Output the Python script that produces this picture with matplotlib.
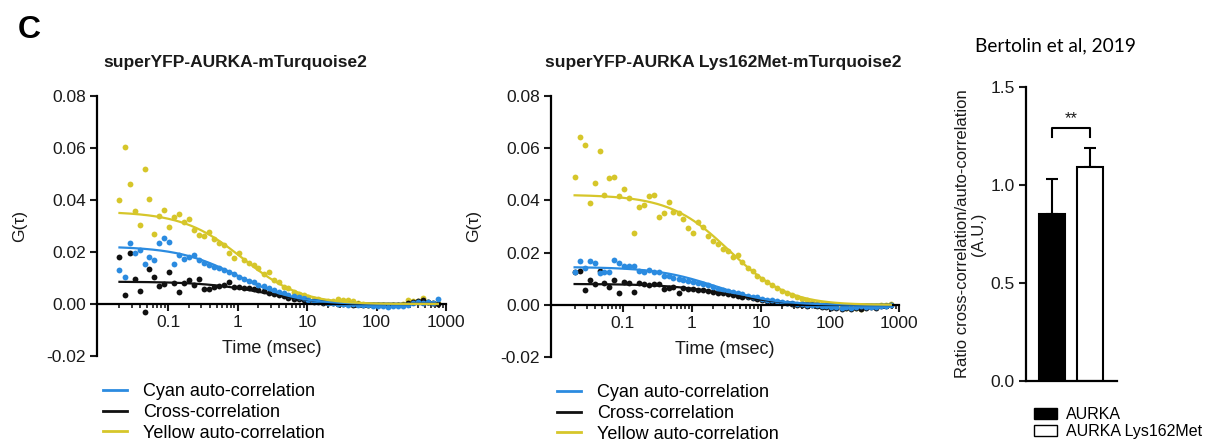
import numpy as np
import matplotlib
matplotlib.use("Agg")
import matplotlib.pyplot as plt
from matplotlib.lines import Line2D
from matplotlib.patches import Patch
from matplotlib.ticker import LogLocator, NullFormatter, FormatStrFormatter

plt.rcParams['font.family'] = ['Liberation Sans', 'DejaVu Sans']

# ---------------------------------------------------------------- data
# lag times of the correlation curves (ms)
lag_ms = [0.020, 0.024, 0.028, 0.033, 0.039, 0.046, 0.054, 0.063, 0.075, 0.088,
          0.104, 0.123, 0.145, 0.171, 0.20, 0.24, 0.28, 0.33, 0.39, 0.46,
          0.54, 0.64, 0.75, 0.89, 1.05, 1.23, 1.45, 1.71, 2.0, 2.4,
          2.8, 3.3, 3.9, 4.6, 5.4, 6.4, 7.6, 8.9, 10.5, 12.4,
          14.6, 17.2, 20.3, 24, 28, 33, 39, 46, 55, 64,
          76, 89, 105, 124, 147, 173, 204, 240, 283, 334,
          394, 465, 548, 646, 762]

# superYFP-AURKA-mTurquoise2
wt_cyan = [0.0131, 0.0105, 0.0236, 0.0198, 0.0208, 0.0154, 0.0182, 0.0169, 0.0234, 0.0253,
           0.0238, 0.0154, 0.0189, 0.0175, 0.0180, 0.0189, 0.0170, 0.0158, 0.0150, 0.0143,
           0.0137, 0.0130, 0.0124, 0.0115, 0.0105, 0.0098, 0.0090, 0.0085, 0.0075, 0.0069,
           0.0062, 0.0053, 0.0048, 0.0042, 0.0035, 0.0030, 0.0026, 0.0022, 0.0016, 0.0012,
           0.0010, 0.0007, 0.0004, 0.0002, 0.0001, 0.0000, -0.0002, -0.0001, -0.0003, -0.0002,
           -0.0004, -0.0006, -0.0009, -0.0007, -0.0010, -0.0008, -0.0006, -0.0009, -0.0004, 0.0002,
           0.0006, 0.0003, 0.0008, 0.0004, 0.0018]
wt_cross = [0.0182, 0.0035, 0.0198, 0.0095, 0.0051, -0.0030, 0.0134, 0.0105, 0.0069, 0.0077,
            0.0124, 0.0082, 0.0045, 0.0082, 0.0092, 0.0073, 0.0095, 0.0057, 0.0057, 0.0066,
            0.0069, 0.0074, 0.0086, 0.0067, 0.0064, 0.0062, 0.0061, 0.0058, 0.0055, 0.0050,
            0.0042, 0.0037, 0.0033, 0.0029, 0.0025, 0.0021, 0.0018, 0.0014, 0.0011, 0.0008,
            0.0006, 0.0005, 0.0004, 0.0002, 0.0001, 0.0000, -0.0001, -0.0002, -0.0001, -0.0003,
            -0.0002, -0.0004, -0.0005, -0.0003, -0.0006, -0.0004, -0.0003, -0.0005, 0.0004, 0.0009,
            0.0012, 0.0014, 0.0006, 0.0002, 0.0000]
wt_yellow = [0.0400, 0.0603, 0.0462, 0.0359, 0.0304, 0.0520, 0.0403, 0.0268, 0.0339, 0.0362,
             0.0295, 0.0334, 0.0345, 0.0317, 0.0326, 0.0285, 0.0266, 0.0262, 0.0278, 0.0250,
             0.0236, 0.0228, 0.0195, 0.0176, 0.0196, 0.0169, 0.0158, 0.0150, 0.0139, 0.0116,
             0.0124, 0.0092, 0.0085, 0.0066, 0.0062, 0.0045, 0.0040, 0.0033, 0.0028, 0.0021,
             0.0019, 0.0013, 0.0012, 0.0010, 0.0018, 0.0017, 0.0015, 0.0013, 0.0003, 0.0001,
             -0.0002, -0.0003, -0.0004, -0.0005, -0.0004, -0.0003, -0.0002, 0.0000, 0.0015, 0.0010,
             0.0012, 0.0024, 0.0008, 0.0005, 0.0002]

# superYFP-AURKA Lys162Met-mTurquoise2
mut_cyan = [0.0124, 0.0166, 0.0141, 0.0166, 0.0160, 0.0122, 0.0124, 0.0124, 0.0172, 0.0160,
            0.0147, 0.0147, 0.0150, 0.0131, 0.0127, 0.0133, 0.0127, 0.0124, 0.0112, 0.0110,
            0.0104, 0.0100, 0.0096, 0.0092, 0.0089, 0.0084, 0.0079, 0.0074, 0.0068, 0.0062,
            0.0058, 0.0053, 0.0049, 0.0044, 0.0040, 0.0035, 0.0031, 0.0028, 0.0024, 0.0020,
            0.0017, 0.0014, 0.0011, 0.0008, 0.0006, 0.0004, 0.0002, 0.0000, -0.0002, -0.0001,
            -0.0004, -0.0006, -0.0010, -0.0008, -0.0011, -0.0007, -0.0012, -0.0009, -0.0006, -0.0010,
            -0.0007, -0.0009, -0.0005, -0.0004, -0.0002]
mut_cross = [0.0124, 0.0130, 0.0057, 0.0096, 0.0080, 0.0128, 0.0084, 0.0070, 0.0096, 0.0045,
             0.0088, 0.0082, 0.0050, 0.0082, 0.0080, 0.0076, 0.0080, 0.0078, 0.0061, 0.0065,
             0.0070, 0.0045, 0.0066, 0.0060, 0.0062, 0.0055, 0.0058, 0.0052, 0.0050, 0.0046,
             0.0045, 0.0041, 0.0038, 0.0035, 0.0031, 0.0028, 0.0025, 0.0021, 0.0018, 0.0015,
             0.0012, 0.0010, 0.0007, 0.0005, 0.0003, 0.0001, -0.0001, -0.0003, -0.0002, -0.0005,
             -0.0007, -0.0010, -0.0013, -0.0011, -0.0015, -0.0012, -0.0016, -0.0013, -0.0017, -0.0011,
             -0.0008, -0.0012, -0.0006, -0.0004, -0.0002]
mut_yellow = [0.0488, 0.0642, 0.0613, 0.0390, 0.0466, 0.0590, 0.0421, 0.0485, 0.0491, 0.0415,
              0.0443, 0.0409, 0.0277, 0.0373, 0.0383, 0.0417, 0.0420, 0.0336, 0.0351, 0.0392,
              0.0357, 0.0350, 0.0330, 0.0294, 0.0275, 0.0319, 0.0300, 0.0262, 0.0246, 0.0232,
              0.0212, 0.0205, 0.0185, 0.0192, 0.0165, 0.0142, 0.0128, 0.0110, 0.0098, 0.0088,
              0.0074, 0.0066, 0.0052, 0.0044, 0.0038, 0.0030, 0.0024, 0.0017, 0.0012, 0.0008,
              0.0004, 0.0002, -0.0002, -0.0006, -0.0010, -0.0014, -0.0008, -0.0012, -0.0016, -0.0006,
              -0.0004, -0.0003, -0.0002, 0.0000, 0.0003]

# diffusion-model fits: (amplitude G0, diffusion time in ms)
wt_fit = {'cyan': (0.0222, 1.0), 'cross': (0.0086, 2.5), 'yellow': (0.0356, 1.2)}
mut_fit = {'cyan': (0.0145, 2.2), 'cross': (0.0080, 3.5), 'yellow': (0.0422, 3.5)}
structure_factor = 5.0

# cross/auto-correlation ratio
ratio_groups = ['AURKA', 'AURKA Lys162Met']
ratio_mean = [0.85, 1.09]
ratio_sd = [0.18, 0.10]

series_labels = ['Cyan auto-correlation', 'Cross-correlation', 'Yellow auto-correlation']

# ---------------------------------------------------------------- style
CYAN = '#2b8be0'
BLACK = '#111111'
YELLOW = '#d6c62a'
TEXT = '#1a1a1a'
colors = {'cyan': CYAN, 'cross': BLACK, 'yellow': YELLOW}

W, H = 1218, 441
fig = plt.figure(figsize=(W / 100, H / 100), dpi=100)


def px_axes(x0, y_top, x1, y_bot):
    return fig.add_axes([x0 / W, 1 - y_bot / H, (x1 - x0) / W, (y_bot - y_top) / H])


def model(t, g0, tau):
    return g0 / (1 + t / tau) / np.sqrt(1 + t / (structure_factor ** 2 * tau))


def fcs_panel(ax, data, fit, xmin):
    t = np.array(lag_ms)
    for key in ['yellow', 'cross', 'cyan']:
        ax.plot(t, data[key], 'o', ms=4.2, color=colors[key], mec='none', zorder=2)
    tt = np.logspace(np.log10(lag_ms[0]), np.log10(lag_ms[-1]), 300)
    for key in ['cross', 'cyan', 'yellow']:
        ax.plot(tt, model(tt, *fit[key]), color=colors[key], lw=1.6, zorder=3)

    ax.set_xscale('log')
    ax.set_xlim(xmin, 1000)
    ax.set_ylim(-0.02, 0.08)
    for s in ['top', 'right']:
        ax.spines[s].set_visible(False)
    ax.spines['bottom'].set_position(('data', 0))
    ax.spines['left'].set_linewidth(1.6)
    ax.spines['bottom'].set_linewidth(1.6)
    ax.set_yticks([-0.02, 0.0, 0.02, 0.04, 0.06, 0.08])
    ax.yaxis.set_major_formatter(FormatStrFormatter('%.2f'))
    ax.set_xticks([0.1, 1, 10, 100, 1000])
    ax.set_xticklabels(['0.1', '1', '10', '100', '1000'])
    ax.xaxis.set_minor_locator(LogLocator(base=10, subs=np.arange(2, 10), numticks=20))
    ax.xaxis.set_minor_formatter(NullFormatter())
    ax.tick_params(which='major', direction='out', length=5, width=1.5,
                   labelsize=12.5, colors=TEXT, pad=3)
    ax.tick_params(which='minor', direction='out', length=3, width=1.2, colors=TEXT)
    ax.set_xlabel('Time (msec)', fontsize=13, color=TEXT, labelpad=7)
    ax.set_ylabel('G(τ)', fontsize=12.5, color=TEXT, labelpad=14)

    handles = [Line2D([], [], color=colors[k], lw=2) for k in ['cyan', 'cross', 'yellow']]
    ax.legend(handles, series_labels, loc='upper left', bbox_to_anchor=(0.017, -0.105),
              frameon=False, fontsize=13, handlelength=1.35, handletextpad=0.85,
              labelspacing=0.2, borderaxespad=0, borderpad=0)


ax1 = px_axes(97, 96, 446, 356)
fcs_panel(ax1, {'cyan': wt_cyan, 'cross': wt_cross, 'yellow': wt_yellow}, wt_fit, 0.0095)

ax2 = px_axes(551, 96, 899, 357)
fcs_panel(ax2, {'cyan': mut_cyan, 'cross': mut_cross, 'yellow': mut_yellow}, mut_fit, 0.0091)

fig.text(235 / W, 1 - 62 / H, 'superYFP-AURKA-mTurquoise2', ha='center', va='center',
         fontsize=12.5, fontweight='bold', color=TEXT)
fig.text(723 / W, 1 - 62 / H, 'superYFP-AURKA Lys162Met-mTurquoise2', ha='center',
         va='center', fontsize=12.5, fontweight='bold', color=TEXT)
fig.text(29 / W, 1 - 30 / H, 'C', ha='center', va='center', fontsize=23,
         fontweight='bold', color='black')
fig.text(975 / W, 1 - 46 / H, 'Bertolin et al, 2019', ha='left', va='center',
         fontsize=13.8, family=['Lato', 'DejaVu Sans'], color='black')

# ---------------------------------------------------------------- ratio bar chart
ax3 = px_axes(1026, 87, 1117, 381)
xpos = np.arange(len(ratio_groups))
ax3.bar(xpos, ratio_mean, width=0.675, color=['black', 'white'], edgecolor='black',
        linewidth=1.5, zorder=2)
ax3.errorbar(xpos, ratio_mean, yerr=[[0, 0], ratio_sd], fmt='none', ecolor='black',
             elinewidth=1.5, capsize=4.5, capthick=1.5, zorder=1)
ax3.set_xlim(-0.675, 1.69)
ax3.set_ylim(0, 1.5)
for s in ['top', 'right']:
    ax3.spines[s].set_visible(False)
ax3.spines['left'].set_linewidth(1.6)
ax3.spines['bottom'].set_linewidth(1.6)
ax3.set_xticks([])
ax3.set_yticks([0, 0.5, 1.0, 1.5])
ax3.yaxis.set_major_formatter(FormatStrFormatter('%.1f'))
ax3.tick_params(axis='y', direction='out', length=5, width=1.5, labelsize=12.5,
                colors=TEXT, pad=3)
ax3.set_ylabel('Ratio cross-correlation/auto-correlation\n(A.U.)', fontsize=12,
               color=TEXT, labelpad=3, linespacing=1.1)

# significance bracket
y_br, y_tip = 1.29, 1.245
ax3.plot([0, 0, 1, 1], [y_tip, y_br, y_br, y_tip], color='black', lw=1.5,
         clip_on=False)
ax3.text(0.5, y_br + 0.012, '**', ha='center', va='bottom', fontsize=12, color=TEXT)

bar_handles = [Patch(facecolor='black', edgecolor='black', lw=1),
               Patch(facecolor='white', edgecolor='black', lw=1)]
ax3.legend(bar_handles, ratio_groups, loc='upper left', bbox_to_anchor=(0.09, -0.09),
           frameon=False, fontsize=11.5, handlelength=1.45, handleheight=0.7,
           handletextpad=0.55, labelspacing=0.1, borderaxespad=0, borderpad=0)

fig.savefig('out.png', dpi=100, facecolor='white')
